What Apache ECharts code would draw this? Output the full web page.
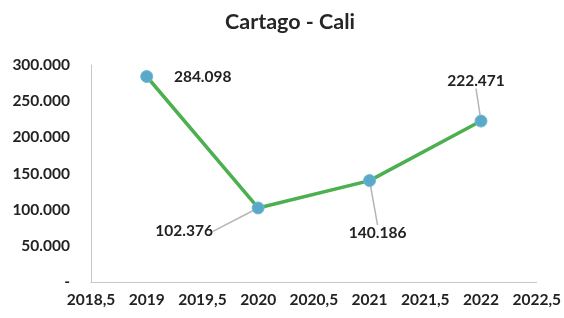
<!DOCTYPE html>
<html>
<head>
<meta charset="utf-8">
<script src="https://cdn.jsdelivr.net/npm/echarts@6/dist/echarts.min.js"></script>
<style>
  html, body { margin: 0; padding: 0; background: #fff; }
  #main { width: 564px; height: 318px; }
</style>
</head>
<body>
<div id="main"></div>
<script>
// datos
const years = [2019, 2020, 2021, 2022]
const pasajeros = [284098, 102376, 140186, 222471]
// donde va cada etiqueta respecto al punto
const labelShift = [[56, 2], [-74, 25], [8, 54], [-5, -39]]

const fmtMiles = v => {
  if (v === 0) return '-'
  return String(Math.round(v)).replace(/\B(?=(\d{3})+(?!\d))/g, '.')
}

const seriesData = years.map((y, i) => ({
  value: [y, pasajeros[i]],
  labelLine: { show: i !== 0 }
}))

const chart = echarts.init(document.getElementById('main'))
const font = 'Lato, "Open Sans", sans-serif'

chart.setOption({
  animation: false,
  title: {
    text: 'Cartago - Cali',
    left: 220,
    top: 6,
    textStyle: { fontFamily: font, fontSize: 21.5, fontWeight: 'bold', color: '#262626' }
  },
  grid: { left: 91, right: 27, top: 65, bottom: 36 },
  xAxis: {
    type: 'value',
    min: 2018.5,
    max: 2022.5,
    interval: 0.5,
    axisLine: { lineStyle: { color: '#c8c8c8' } },
    axisTick: { show: false },
    splitLine: { show: false },
    axisLabel: {
      margin: 10,
      fontFamily: font,
      fontSize: 15.5,
      fontWeight: 'bold',
      color: '#222',
      formatter: v => String(v).replace('.', ',')
    }
  },
  yAxis: {
    type: 'value',
    min: 0,
    max: 300000,
    interval: 50000,
    axisLine: { show: true, lineStyle: { color: '#c8c8c8' } },
    axisTick: { show: false },
    splitLine: { show: false },
    axisLabel: {
      margin: 21,
      fontFamily: font,
      fontSize: 15.5,
      fontWeight: 'bold',
      color: '#222',
      formatter: fmtMiles
    }
  },
  series: [{
    type: 'line',
    data: seriesData,
    symbol: 'circle',
    symbolSize: 12,
    lineStyle: { color: '#4caf50', width: 3.5 },
    itemStyle: { color: '#5aa9c8', borderColor: '#6fb7cf', borderWidth: 1 },
    label: {
      show: true,
      fontFamily: font,
      fontSize: 15.5,
      fontWeight: 'bold',
      color: '#222',
      formatter: p => fmtMiles(p.value[1])
    },
    labelLine: { show: true, lineStyle: { color: '#b5b5b5', width: 1.5 } },
    labelLayout: p => ({ dx: labelShift[p.dataIndex][0], dy: labelShift[p.dataIndex][1] + 18 })
  }]
})
</script>
</body>
</html>
